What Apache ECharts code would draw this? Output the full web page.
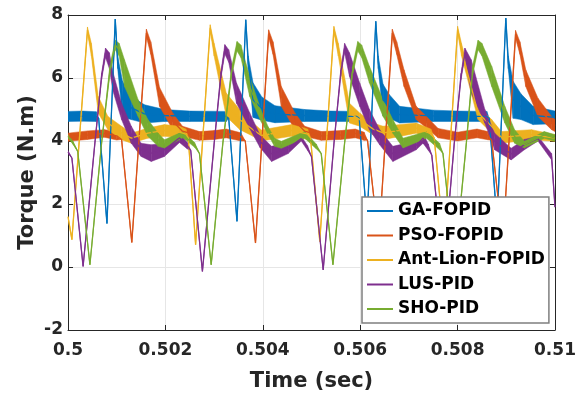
<!DOCTYPE html>
<html>
<head>
<meta charset="utf-8">
<script src="https://cdn.jsdelivr.net/npm/echarts@6/dist/echarts.min.js"></script>
<style>
html,body{margin:0;padding:0;background:#ffffff;}
#chart{width:579px;height:397px;}
</style>
</head>
<body>
<div id="chart"></div>
<script>
// ---------------- data ----------------
const T0 = 0.5;                       // s ; first column of every row = ms after T0
const seriesNames = ['GA-FOPID', 'PSO-FOPID', 'Ant-Lion-FOPID', 'LUS-PID', 'SHO-PID'];
const xTickLabels = ['0.5', '0.502', '0.504', '0.506', '0.508', '0.51'];
const yTickLabels = ['-2', '0', '2', '4', '6', '8'];

// rows: [ms after 0.5 s, lower edge of the noisy trace, upper edge of the noisy trace]
const gaFopid = [
  [0.00,4.62,4.94],[0.30,4.63,4.95],[0.58,4.62,4.93],[0.63,4.72,4.72],[0.80,1.38,1.38],
  [0.97,7.87,7.87],[1.02,6.30,6.70],[1.12,4.75,5.90],[1.30,4.68,5.42],[1.57,4.57,5.15],
  [1.98,4.62,5.00],[2.50,4.62,4.95],[3.25,4.62,4.94],[3.30,4.72,4.72],[3.47,1.45,1.45],
  [3.65,7.85,7.85],[3.70,6.30,6.70],[3.80,4.75,5.85],[3.98,4.66,5.40],[4.25,4.58,5.12],
  [4.86,4.62,5.00],[5.40,4.62,4.95],[5.93,4.62,4.94],[5.98,4.72,4.72],[6.14,1.40,1.40],
  [6.32,7.80,7.80],[6.37,6.30,6.70],[6.47,4.80,5.80],[6.60,4.72,5.47],[6.81,4.57,5.10],
  [7.50,4.62,4.98],[8.00,4.62,4.95],[8.60,4.62,4.94],[8.65,4.72,4.72],[8.81,1.40,1.40],
  [8.99,7.90,7.90],[9.04,6.30,6.70],[9.14,4.72,5.90],[9.30,4.68,5.50],[9.55,4.52,5.10],
  [10.00,4.55,4.95]
];
const psoFopid = [
  [0.00,3.99,4.25],[0.40,4.05,4.32],[0.75,4.12,4.36],[1.00,4.03,4.30],[1.10,4.05,4.05],
  [1.31,0.78,0.78],[1.61,7.30,7.55],[1.70,6.75,7.15],[1.88,5.10,5.70],[2.15,4.36,4.89],
  [2.35,4.15,4.47],[2.70,4.02,4.30],[3.00,4.05,4.33],[3.25,4.10,4.38],[3.55,4.00,4.26],
  [3.64,4.00,4.00],[3.85,0.76,0.76],[4.12,7.28,7.53],[4.21,6.75,7.15],[4.38,5.10,5.73],
  [4.66,4.36,4.89],[4.86,4.15,4.47],[5.20,4.02,4.30],[5.60,4.05,4.33],[5.90,4.10,4.38],
  [6.08,4.02,4.28],[6.15,4.02,4.02],[6.38,0.80,0.80],[6.66,7.30,7.55],[6.75,6.75,7.15],
  [6.90,5.73,6.26],[7.15,4.68,5.10],[7.36,4.41,4.78],[7.60,4.10,4.40],[8.00,4.00,4.28],
  [8.40,4.10,4.38],[8.62,4.04,4.30],[8.70,4.02,4.02],[8.93,0.80,0.80],[9.19,7.26,7.51],
  [9.28,6.75,7.15],[9.40,5.73,6.26],[9.65,4.78,5.36],[9.93,4.36,4.78],[10.00,4.30,4.68]
];
const antLionFopid = [
  [0.00,1.60,1.60],[0.08,0.87,0.87],[0.40,7.42,7.62],[0.48,6.70,7.10],[0.62,4.89,5.42],
  [0.82,4.36,4.78],[1.10,4.04,4.47],[1.30,3.93,4.25],[1.64,4.09,4.41],[1.98,4.15,4.52],
  [2.29,4.10,4.47],[2.42,4.05,4.38],[2.47,4.10,4.10],[2.62,0.71,0.71],[2.92,7.49,7.69],
  [3.00,6.70,7.10],[3.25,4.78,5.52],[3.53,4.36,4.99],[3.80,4.15,4.57],[3.97,4.00,4.35],
  [4.59,4.15,4.52],[4.92,4.05,4.38],[4.98,4.10,4.10],[5.17,0.81,0.81],[5.46,7.44,7.64],
  [5.55,6.70,7.10],[5.78,4.57,5.20],[5.99,4.47,4.89],[6.26,4.20,4.57],[6.47,4.04,4.47],
  [7.15,4.25,4.57],[7.45,4.08,4.38],[7.52,4.10,4.10],[7.72,0.80,0.80],[8.00,7.44,7.64],
  [8.08,6.70,7.10],[8.42,4.68,5.10],[8.70,4.25,4.68],[8.90,3.93,4.30],[9.52,4.04,4.36],
  [10.00,3.99,4.20]
];
const lusPid = [
  [0.00,3.60,3.70],[0.08,3.46,3.46],[0.31,0.02,0.02],[0.55,3.90,3.90],[0.69,5.95,6.15],
  [0.77,6.65,6.95],[0.85,6.30,6.80],[0.92,5.60,6.20],[1.10,4.68,5.20],[1.30,3.93,4.47],
  [1.50,3.51,3.93],[1.71,3.35,3.88],[1.98,3.51,3.93],[2.29,3.95,4.25],[2.45,3.75,3.95],
  [2.52,3.70,3.70],[2.76,-0.14,-0.14],[3.00,3.90,3.90],[3.14,6.00,6.20],[3.22,6.76,7.06],
  [3.30,6.50,6.90],[3.46,5.20,5.84],[3.73,4.40,4.90],[3.94,3.80,4.20],[4.18,3.35,3.83],
  [4.52,3.60,3.95],[4.79,4.00,4.15],[4.92,3.70,3.85],[5.00,3.50,3.50],[5.24,-0.09,-0.09],
  [5.46,3.90,3.90],[5.60,6.05,6.25],[5.68,6.80,7.10],[5.78,6.05,6.80],[5.99,5.10,5.84],
  [6.19,4.36,5.00],[6.40,3.88,4.36],[6.67,3.35,3.83],[7.15,3.72,4.00],[7.29,3.93,4.25],
  [7.40,3.70,3.90],[7.47,3.55,3.55],[7.71,-0.10,-0.10],[7.93,3.90,3.90],[8.07,5.95,6.15],
  [8.15,6.65,6.95],[8.28,5.52,6.58],[8.56,4.57,5.00],[8.76,3.72,4.25],[9.10,3.40,3.77],
  [9.37,3.72,4.05],[9.65,4.00,4.15],[9.93,3.40,3.60],[10.00,1.90,1.90]
];
const shoPid = [
  [0.00,4.10,4.20],[0.10,3.90,4.00],[0.20,3.67,3.67],[0.45,0.07,0.07],[0.69,3.94,3.94],
  [0.86,6.10,6.40],[0.97,6.90,7.20],[1.05,6.70,7.10],[1.16,5.73,6.58],[1.44,4.78,5.31],
  [1.64,4.15,4.68],[1.85,3.83,4.25],[1.98,3.78,4.04],[2.36,4.10,4.30],[2.60,3.80,3.95],
  [2.70,3.60,3.60],[2.94,0.07,0.07],[3.18,3.94,3.94],[3.36,6.05,6.35],[3.47,6.86,7.16],
  [3.55,6.65,7.05],[3.73,5.42,6.05],[3.97,4.60,4.95],[4.11,4.20,4.45],[4.24,3.83,4.09],
  [4.38,3.77,3.99],[4.86,4.09,4.30],[5.10,3.75,3.90],[5.20,3.60,3.60],[5.44,0.07,0.07],
  [5.68,3.94,3.94],[5.84,6.05,6.35],[5.95,6.86,7.16],[6.03,6.65,7.05],[6.19,5.84,6.37],
  [6.47,4.78,5.31],[6.67,4.25,4.68],[6.88,3.78,4.09],[7.36,4.09,4.30],[7.63,3.72,3.93],
  [7.70,3.60,3.60],[7.94,0.07,0.07],[8.18,3.94,3.94],[8.31,6.10,6.40],[8.42,6.90,7.20],
  [8.50,6.70,7.10],[8.70,5.73,6.37],[8.97,4.57,5.10],[9.17,3.93,4.36],[9.37,3.78,3.99],
  [9.78,4.09,4.30],[10.00,3.99,4.20]
];
// ------------------------------------------------------------------------

const seriesData = [gaFopid, psoFopid, antLionFopid, lusPid, shoPid];
const colors = ['#0072BD', '#D95319', '#EDB120', '#7E2F8E', '#77AC30'];
const FONT = 'DejaVu Sans';
const INK = '#262626';

function toTime(ms) { return +(T0 + ms / 1000).toFixed(6); }
function centreLine(rows) { return rows.map(r => [toTime(r[0]), (r[1] + r[2]) / 2]); }
function bandSegments(rows) {
  const out = [];
  for (let i = 0; i < rows.length - 1; i++) {
    const a = rows[i], b = rows[i + 1];
    out.push([toTime(a[0]), a[1], a[2], toTime(b[0]), b[1], b[2]]);
  }
  return out;
}

const series = [];
seriesData.forEach((rows, k) => {
  const col = colors[k];
  series.push({
    name: seriesNames[k] + ' band',
    type: 'custom',
    silent: true,
    clip: true,
    xAxisIndex: 0, yAxisIndex: 0,
    encode: { x: [0, 3], y: [1, 2, 4, 5] },
    data: bandSegments(rows),
    renderItem: function (params, api) {
      const p1 = api.coord([api.value(0), api.value(1)]);
      const p2 = api.coord([api.value(3), api.value(4)]);
      const p3 = api.coord([api.value(3), api.value(5)]);
      const p4 = api.coord([api.value(0), api.value(2)]);
      return {
        type: 'polygon',
        shape: { points: [p1, p2, p3, p4] },
        style: { fill: col, stroke: col, lineWidth: 0.5 }
      };
    }
  });
  series.push({
    name: seriesNames[k],
    type: 'line',
    xAxisIndex: 0, yAxisIndex: 0,
    data: centreLine(rows),
    symbol: 'none',
    showSymbol: false,
    clip: true,
    color: col,
    itemStyle: { color: col },
    lineStyle: { color: col, width: 1.3 },
    emphasis: { disabled: true }
  });
});

const axisCommonX = { type: 'value', min: 0.5, max: 0.51, interval: 0.002 };
const axisCommonY = { type: 'value', min: -2, max: 8, interval: 2 };

const option = {
  animation: false,
  backgroundColor: '#ffffff',
  grid: { left: 68, right: 24, top: 15, bottom: 67, containLabel: false, outerBoundsMode: 'none' },
  legend: {
    data: seriesNames.map(n => ({ name: n, icon: 'rect' })),
    orient: 'vertical',
    left: 362, top: 197,
    padding: [4, 4, 4, 5],
    itemWidth: 26, itemHeight: 2, itemGap: 4.5,
    backgroundColor: '#ffffff',
    borderColor: '#7f7f7f', borderWidth: 1.5,
    textStyle: { fontFamily: FONT, fontWeight: 'bold', fontSize: 17, color: '#000000', lineHeight: 20 },
    selectedMode: false
  },
  xAxis: [
    Object.assign({}, axisCommonX, {
      position: 'bottom',
      name: 'Time (sec)', nameLocation: 'middle', nameGap: 41, nameMoveOverlap: false,
      nameTextStyle: { fontFamily: FONT, fontWeight: 'bold', fontSize: 21, color: INK },
      axisLine: { show: true, onZero: false, lineStyle: { color: INK, width: 1 } },
      axisTick: { show: true, inside: true, length: 5, lineStyle: { color: INK } },
      axisLabel: {
        show: true, margin: 12, showMinLabel: true, showMaxLabel: true,
        fontFamily: FONT, fontWeight: 'bold', fontSize: 17, color: INK,
        formatter: v => xTickLabels[Math.round((v - 0.5) / 0.002)]
      },
      splitLine: { show: true, lineStyle: { color: '#e6e6e6', width: 1 } }
    }),
    Object.assign({}, axisCommonX, {
      position: 'top',
      axisLine: { show: true, onZero: false, lineStyle: { color: INK, width: 1 } },
      axisTick: { show: true, inside: true, length: 5, lineStyle: { color: INK } },
      axisLabel: { show: false },
      splitLine: { show: false }
    })
  ],
  yAxis: [
    Object.assign({}, axisCommonY, {
      position: 'left',
      name: 'Torque (N.m)', nameLocation: 'middle', nameGap: 30, nameMoveOverlap: false,
      nameTextStyle: { fontFamily: FONT, fontWeight: 'bold', fontSize: 21, color: INK },
      axisLine: { show: true, onZero: false, lineStyle: { color: INK, width: 1 } },
      axisTick: { show: true, inside: true, length: 5, lineStyle: { color: INK } },
      axisLabel: {
        show: true, margin: 5, showMinLabel: true, showMaxLabel: true,
        fontFamily: FONT, fontWeight: 'bold', fontSize: 17, color: INK,
        formatter: v => yTickLabels[Math.round((v + 2) / 2)]
      },
      splitLine: { show: true, lineStyle: { color: '#e6e6e6', width: 1 } }
    }),
    Object.assign({}, axisCommonY, {
      position: 'right',
      axisLine: { show: true, onZero: false, lineStyle: { color: INK, width: 1 } },
      axisTick: { show: true, inside: true, length: 5, lineStyle: { color: INK } },
      axisLabel: { show: false },
      splitLine: { show: false }
    })
  ],
  series: series
};

const chart = echarts.init(document.getElementById('chart'), null, { renderer: 'canvas' });
chart.setOption(option);
</script>
</body>
</html>
